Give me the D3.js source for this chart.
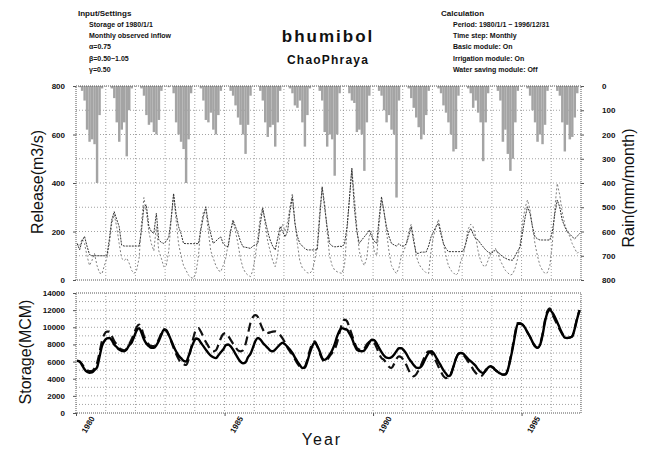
<!DOCTYPE html>
<html>
<head>
<meta charset="utf-8">
<script src="https://cdn.jsdelivr.net/npm/d3@7"></script>
<style>
  body { margin: 0; background: #fff; }
  text { font-family: "Liberation Sans", Arial, sans-serif; fill: #111; }
</style>
</head>
<body>
<svg width="646" height="454"></svg>
<script>
// monthly values, Jan 1980 .. Dec 1996 (one row per year)
const rain = [
  0,5,20,60,180,230,220,240,400,120,10,0,
  0,0,10,50,150,230,180,150,290,100,10,0,
  0,0,10,40,120,160,150,190,200,140,20,0,
  0,5,0,30,150,200,230,260,400,220,30,0,
  0,0,10,60,140,150,110,180,200,120,20,0,
  0,0,20,40,80,130,160,200,280,160,40,0,
  0,0,20,60,150,210,170,160,250,150,20,0,
  0,0,10,30,80,90,60,150,250,120,10,0,
  0,0,20,60,190,250,200,220,370,200,30,0,
  0,0,30,60,70,190,180,200,350,150,40,0,
  0,0,20,40,100,150,120,180,200,460,60,0,
  0,0,10,50,90,130,170,220,200,120,20,0,
  0,0,10,30,80,110,150,200,270,260,40,0,
  0,0,10,30,90,60,110,150,310,150,30,0,
  0,0,20,60,230,180,280,350,300,150,20,0,
  0,0,10,40,100,150,230,200,240,160,20,0,
  0,0,20,40,150,270,160,220,210,130,30,0
];

const releaseSim = [
  150,125,160,180,140,105,100,100,100,100,100,100,
  100,170,247,282,250,220,144,140,140,140,140,140,
  140,140,200,302,309,220,200,192,275,165,155,151,
  160,178,250,357,275,220,192,151,150,150,150,150,
  150,150,206,260,302,234,190,151,160,170,178,150,
  140,137,200,247,220,192,160,137,135,133,130,140,
  145,151,230,295,247,200,165,140,124,170,220,200,
  178,200,280,343,234,180,151,140,130,124,124,124,
  124,124,250,385,300,220,151,140,137,137,140,137,
  150,220,330,460,302,200,151,165,178,190,206,180,
  160,151,250,343,280,220,180,151,145,140,150,140,
  140,150,180,220,160,110,110,115,115,115,140,178,
  200,220,234,190,151,130,117,117,117,117,117,117,
  120,150,190,213,190,170,165,150,137,125,115,110,
  115,124,115,105,96,90,85,82,82,100,120,137,
  200,260,302,275,220,178,170,165,165,165,165,165,
  200,275,330,300,247,220,200,190,178,170,180,192
];

const releaseObs = [
  150,140,170,150,100,60,80,110,60,30,25,60,
  90,150,230,270,220,150,90,80,90,70,40,27,
  40,90,230,340,280,200,150,120,220,120,90,55,
  60,120,240,350,250,150,100,60,40,20,10,7,
  30,100,220,280,290,200,120,90,60,40,34,60,
  90,150,200,240,200,150,90,50,30,20,14,40,
  100,180,260,300,230,160,120,80,55,100,200,230,
  200,240,300,357,250,150,80,50,40,30,27,40,
  80,150,280,380,320,200,100,60,41,34,30,27,
  60,200,330,460,350,220,120,80,60,90,180,200,
  120,100,220,330,290,200,120,60,40,27,50,100,
  120,150,200,230,180,100,70,50,40,30,27,120,
  180,220,250,200,150,100,60,40,30,20,30,80,
  100,160,210,230,220,180,120,80,60,55,80,110,
  120,130,110,80,60,40,30,20,25,50,90,150,
  240,300,330,290,220,150,100,60,40,27,30,60,
  150,300,398,350,280,230,200,180,150,130,110,120
];

const storageSim = [
  6100,6000,5600,5100,4800,4700,4750,5000,5300,6500,7800,8400,
  8700,8750,8500,8000,7700,7400,7250,7200,7400,7900,8200,8900,
  9600,9900,9400,8600,8100,7800,7600,7600,7900,8400,9100,9700,
  9600,9100,8500,7800,7200,6700,6400,6100,6000,6600,7500,8200,
  8700,8600,8200,7800,7400,7000,6700,6500,6400,6700,7100,7400,
  7900,8000,7800,7400,6900,6400,6000,5800,5900,6500,6900,7600,
  8400,8750,8600,8200,7900,7600,7300,7200,7400,7700,8000,8200,
  8000,7700,7400,7000,6500,6000,5600,5250,5300,6000,7000,7800,
  8200,7800,7200,6400,6200,6400,6800,7300,8000,8900,9600,9900,
  9800,9700,9300,8750,8000,7400,7250,7200,7300,7700,8200,8550,
  8500,8100,7600,7100,6700,6450,6400,6500,6800,7200,7550,7550,
  7300,6900,6400,6000,5600,5300,5250,5400,5900,6500,7000,7200,
  7000,6500,6000,5500,5000,4600,4300,4500,5400,6300,6900,7000,
  6900,6600,6300,6050,5800,5500,5100,4800,4670,4900,5300,5450,
  5300,5000,4800,4600,4480,4500,5000,6200,7600,9200,10400,10400,
  10300,9900,9400,8900,8300,7800,7600,7900,9000,10600,11700,12000,
  11700,11200,10600,9900,9300,8800,8750,8800,8950,9800,11000,12000
];

const storageObs = [
  6100,6000,5700,5300,5000,4900,4900,5200,5800,7000,8400,9200,
  9500,9500,9000,8400,8000,7600,7400,7300,7500,8000,8600,9300,
  10000,10300,9900,9000,8400,8000,7800,7800,8000,8600,9300,9800,
  9700,9100,8400,7600,6900,6300,5900,5700,5600,6200,7500,8800,
  9700,9900,9500,8900,8300,7800,7400,7200,7300,7900,8700,9200,
  9330,9000,8560,8100,7700,7300,7200,7300,8000,9200,10500,11200,
  11430,11200,10500,9800,9300,9330,9400,9500,9530,9400,9100,8700,
  8200,7600,7200,6800,6300,5800,5400,5250,5400,6200,7300,8100,
  8360,7800,7000,6300,6000,6200,6600,7000,7400,8200,9400,10400,
  10890,10700,10000,9140,8300,7600,7400,7300,7500,8000,8300,8400,
  8200,7600,6900,6400,6200,5800,5400,5250,5700,6300,6600,6500,
  6100,5600,5000,4500,4280,4500,5000,5600,6300,6900,7200,7000,
  6600,6000,5400,4800,4300,4080,4200,4600,5400,6300,6900,7000,
  6800,6400,6000,5600,5100,4700,4400,4280,4500,5000,5400,5450,
  5300,5000,4800,4600,4480,4500,5000,6300,7800,9400,10500,10500,
  10300,9900,9400,8900,8300,7800,7600,8000,9200,10800,11900,12200,
  11500,10890,10300,9700,9200,8800,8750,8800,8950,9900,11100,12000
];

const yearTicks = [1980, 1985, 1990, 1995];
const releaseTicks = [0, 200, 400, 600, 800];
const rainTicks = [0, 100, 200, 300, 400, 500, 600, 700, 800];
const storageTicks = [0, 2000, 4000, 6000, 8000, 10000, 12000, 14000];

const settingsLines = ["Storage of 1980/1/1", "Monthly observed inflow", "\u03b1=0.75", "\u03b2=0.50~1.05", "\u03b3=0.50"];
const calcLines = ["Period: 1980/1/1 ~ 1996/12/31", "Time step: Monthly", "Basic module: On", "Irrigation module: On", "Water saving module: Off"];

let svg = d3.select("svg");

let left = 76, right = 581;
let topY0 = 86, topY1 = 280;
let botY0 = 293, botY1 = 413;

let month = i => new Date(1980, i, 1);
let x = d3.scaleTime().domain([month(0), month(204)]).range([left, right]);
let yRel = d3.scaleLinear().domain([0, 800]).range([topY1, topY0]);
let yRain = d3.scaleLinear().domain([0, 800]).range([topY0, topY1]);
let ySto = d3.scaleLinear().domain([0, 14000]).range([botY1, botY0]);

let midMonth = i => x(new Date(1980, i, 15));

// header texts
svg.append("text").attr("x", 78).attr("y", 16)
    .style("font-size", "8px").style("font-weight", "bold").text("Input/Settings");
settingsLines.forEach((t, i) => {
  svg.append("text").attr("x", 89).attr("y", 27 + i * 11.2)
      .style("font-size", "7px").style("font-weight", "bold").text(t);
});
svg.append("text").attr("x", 441).attr("y", 16)
    .style("font-size", "8px").style("font-weight", "bold").text("Calculation");
calcLines.forEach((t, i) => {
  svg.append("text").attr("x", 453).attr("y", 27 + i * 11.2)
      .style("font-size", "7px").style("font-weight", "bold").text(t);
});
svg.append("text").attr("x", 328).attr("y", 42).attr("text-anchor", "middle")
    .style("font-size", "17px").style("font-weight", "bold").style("letter-spacing", "2px")
    .text("bhumibol");
svg.append("text").attr("x", 328).attr("y", 64).attr("text-anchor", "middle")
    .style("font-size", "12px").style("font-weight", "bold").style("letter-spacing", "1.2px")
    .text("ChaoPhraya");

// grids
let grid = svg.append("g").attr("stroke", "#8a8a8a").attr("stroke-dasharray", "1,2").attr("stroke-width", 0.8);
d3.range(100, 800, 100).forEach(v => {
  grid.append("line").attr("x1", left).attr("x2", right).attr("y1", yRel(v)).attr("y2", yRel(v));
});
d3.range(1000, 14000, 1000).forEach(v => {
  grid.append("line").attr("x1", left).attr("x2", right).attr("y1", ySto(v)).attr("y2", ySto(v));
});
d3.range(1981, 1997).forEach(yr => {
  let xx = x(new Date(yr, 0, 1));
  grid.append("line").attr("x1", xx).attr("x2", xx).attr("y1", topY0).attr("y2", topY1);
  grid.append("line").attr("x1", xx).attr("x2", xx).attr("y1", botY0).attr("y2", botY1);
});

// rain bars hanging from the top
svg.append("g").selectAll("rect")
    .data(rain)
    .enter()
    .append("rect")
    .attr("x", (d, i) => x(month(i)))
    .attr("width", (d, i) => x(month(i + 1)) - x(month(i)))
    .attr("y", topY0)
    .attr("height", d => yRain(d) - topY0)
    .attr("fill", "#a4a4a4");

// release lines
let relLine = d3.line().x((d, i) => midMonth(i)).y(d => yRel(d));
svg.append("path").datum(releaseObs)
    .attr("fill", "none").attr("stroke", "#808080").attr("stroke-width", 1)
    .attr("stroke-dasharray", "2,2").attr("d", relLine);
svg.append("path").datum(releaseSim)
    .attr("fill", "none").attr("stroke", "#333").attr("stroke-width", 1)
    .attr("stroke-dasharray", "2,1").attr("d", relLine);

// storage lines
let stoLine = d3.line().curve(d3.curveMonotoneX).x((d, i) => midMonth(i)).y(d => ySto(d));
svg.append("path").datum(storageObs)
    .attr("fill", "none").attr("stroke", "#111").attr("stroke-width", 2.2)
    .attr("stroke-dasharray", "9,5").attr("d", stoLine);
svg.append("path").datum(storageSim)
    .attr("fill", "none").attr("stroke", "#000").attr("stroke-width", 2.4)
    .attr("d", stoLine);

// frames
[[topY0, topY1], [botY0, botY1]].forEach(p => {
  svg.append("rect").attr("x", left).attr("y", p[0])
      .attr("width", right - left).attr("height", p[1] - p[0])
      .attr("fill", "none").attr("stroke", "#555").attr("stroke-width", 1)
      .attr("stroke-dasharray", "1,1");
});

// axes
let axisFont = g => g.call(g => g.select(".domain").remove())
    .selectAll("text").style("font-size", "8px").style("font-weight", "bold")
    .style("font-family", "'Liberation Sans', Arial, sans-serif");

svg.append("g").attr("transform", "translate(" + left + ",0)")
    .call(d3.axisLeft(yRel).tickValues(releaseTicks).tickFormat(d3.format("d")).tickSize(3).tickPadding(8))
    .call(axisFont);
svg.append("g").attr("transform", "translate(" + right + ",0)")
    .call(d3.axisRight(yRain).tickValues(rainTicks).tickFormat(d3.format("d")).tickSize(3).tickPadding(18))
    .call(axisFont);
svg.append("g").attr("transform", "translate(" + left + ",0)")
    .call(d3.axisLeft(ySto).tickValues(storageTicks).tickFormat(d3.format("d")).tickSize(3).tickPadding(8))
    .call(axisFont);

let xAxis = svg.append("g").attr("transform", "translate(0," + botY1 + ")")
    .call(d3.axisBottom(x).tickValues(yearTicks.map(yr => new Date(yr, 0, 1)))
        .tickFormat(d3.timeFormat("%Y")).tickSize(3));
xAxis.call(axisFont);
xAxis.selectAll("text")
    .attr("text-anchor", "end")
    .attr("transform", "translate(16,4) rotate(-60)")
    .attr("dx", 0).attr("dy", "0.35em").attr("y", 0).attr("x", 0);
svg.selectAll(".tick line").attr("stroke", "#555");

// axis titles
svg.append("text").attr("transform", "translate(43,182) rotate(-90)")
    .attr("text-anchor", "middle").style("font-size", "16px").text("Release(m3/s)");
svg.append("text").attr("transform", "translate(31,352) rotate(-90)")
    .attr("text-anchor", "middle").style("font-size", "16px").text("Storage(MCM)");
svg.append("text").attr("transform", "translate(634,188) rotate(-90)")
    .attr("text-anchor", "middle").style("font-size", "16px").text("Rain(mm/month)");
svg.append("text").attr("x", 322).attr("y", 445)
    .attr("text-anchor", "middle").style("font-size", "16px").style("letter-spacing", "2px")
    .text("Year");
</script>
</body>
</html>
